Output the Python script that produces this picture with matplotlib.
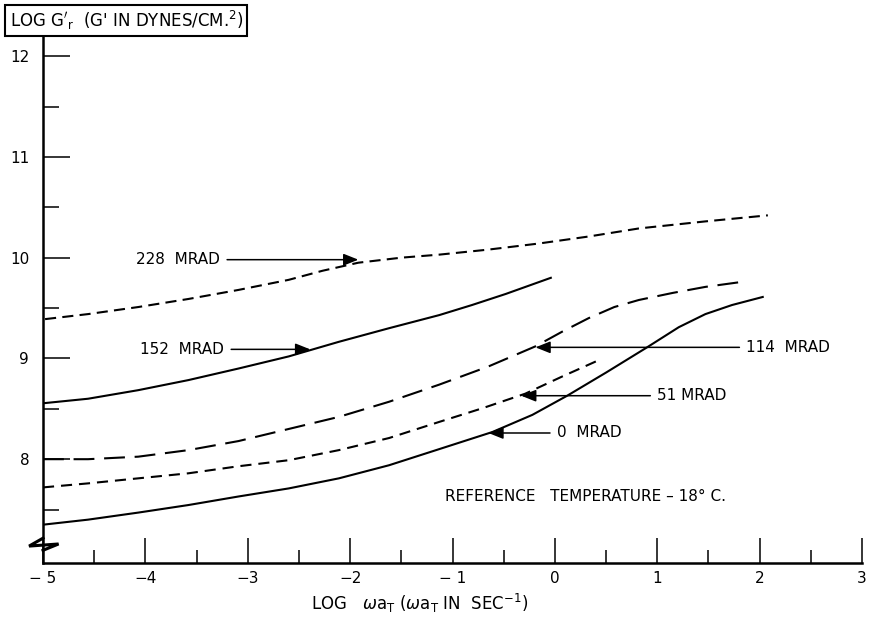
import matplotlib
matplotlib.use("Agg")
import matplotlib.pyplot as plt

plt.rcParams['font.family'] = ['DejaVu Sans']
plt.rcParams['lines.scale_dashes'] = False

# log(omega*aT) vs log G' for each radiation dose
x_228 = [-4.98, -4.56, -4.07, -3.58, -3.09, -2.60, -2.27, -1.92, -1.50, -1.13, -0.65,
         -0.16, 0.33, 0.82, 1.47, 2.08]
y_228 = [9.39, 9.44, 9.51, 9.59, 9.68, 9.78, 9.87, 9.95, 10.00, 10.03, 10.08,
         10.14, 10.21, 10.29, 10.36, 10.42]

x_152 = [-5.0, -4.56, -4.07, -3.58, -3.09, -2.60, -2.11, -1.62, -1.13, -0.81, -0.48, -0.04]
y_152 = [8.555, 8.60, 8.685, 8.785, 8.90, 9.02, 9.165, 9.30, 9.43, 9.53, 9.64, 9.80]

x_114 = [-5.0, -4.56, -4.07, -3.58, -3.09, -2.60, -2.11, -1.62, -1.13, -0.65, -0.19,
         0.07, 0.33, 0.58, 0.82, 1.15, 1.47, 1.83]
y_114 = [8.0, 8.0, 8.025, 8.09, 8.18, 8.30, 8.42, 8.57, 8.74, 8.92, 9.12,
         9.265, 9.40, 9.51, 9.58, 9.65, 9.71, 9.76]

x_51 = [-5.0, -4.56, -4.07, -3.58, -3.09, -2.60, -2.11, -1.62, -1.13, -0.71, -0.29, 0.07, 0.40]
y_51 = [7.72, 7.76, 7.81, 7.86, 7.93, 7.99, 8.09, 8.21, 8.37, 8.505, 8.65, 8.82, 8.97]

x_0 = [-5.0, -4.56, -4.07, -3.58, -3.09, -2.60, -2.11, -1.62, -1.13, -0.61, -0.22,
       0.12, 0.50, 0.90, 1.21, 1.47, 1.73, 2.03]
y_0 = [7.35, 7.40, 7.47, 7.545, 7.63, 7.71, 7.81, 7.94, 8.10, 8.27, 8.44,
       8.63, 8.86, 9.11, 9.31, 9.44, 9.53, 9.61]

# dose labels: text, text anchor (x, y), arrow tip x, side of text
labels = ['228  MRAD', '152  MRAD', '114  MRAD', '51 MRAD', '0  MRAD']
label_x = [-3.27, -3.23, 1.87, 1.0, 0.02]
label_y = [9.98, 9.09, 9.11, 8.63, 8.26]
tip_x = [-1.92, -2.39, -0.19, -0.33, -0.65]
label_ha = ['right', 'right', 'left', 'left', 'left']

x_major = [-5, -4, -3, -2, -1, 0, 1, 2, 3]
x_ticklabels = ['\u2212 5', '\u22124', '\u22123', '\u22122', '\u2212 1', '0', '1', '2', '3']
y_major = [8, 9, 10, 11, 12]
y_minor = [7.5, 8.5, 9.5, 10.5, 11.5]

fig = plt.figure(figsize=(8.69, 6.19), dpi=100)
ax = fig.add_axes([0.0495, 0.0905, 0.9425, 0.853])

lw = 1.5
ax.plot(x_228, y_228, color='black', lw=lw, linestyle=(0, (8, 4.5)))
ax.plot(x_152, y_152, color='black', lw=lw)
ax.plot(x_114, y_114, color='black', lw=lw, linestyle=(0, (15, 7)))
ax.plot(x_51, y_51, color='black', lw=lw, linestyle=(0, (8, 5)))
ax.plot(x_0, y_0, color='black', lw=lw)

for txt, lx, ly, tx, ha in zip(labels, label_x, label_y, tip_x, label_ha):
    rel = (1, 0.5) if ha == 'right' else (0, 0.5)
    ax.annotate(txt, xy=(tx, ly), xytext=(lx, ly), ha=ha, va='center',
                fontsize=11,
                arrowprops=dict(arrowstyle='-|>,head_length=0.5,head_width=0.2',
                                color='black', lw=1.1, relpos=rel,
                                shrinkA=3, shrinkB=0, mutation_scale=18))

ax.text(-1.07, 7.63, 'REFERENCE   TEMPERATURE \u2013 18\u00b0 C.',
        fontsize=11, ha='left', va='center')

ax.set_xlim(-5, 3)
ax.set_ylim(6.97, 12.21)

ax.spines['top'].set_visible(False)
ax.spines['right'].set_visible(False)
ax.spines['left'].set_linewidth(1.8)
ax.spines['bottom'].set_linewidth(1.8)

ax.set_xticks(x_major)
ax.set_xticklabels(x_ticklabels, fontsize=11)
ax.set_xticks([v + 0.5 for v in x_major[:-1]], minor=True)
ax.set_yticks(y_major)
ax.set_yticklabels([str(v) for v in y_major], fontsize=11)
ax.set_yticks(y_minor, minor=True)
ax.tick_params(axis='x', which='major', direction='in', length=18, width=1.1, pad=6)
ax.tick_params(axis='x', which='minor', direction='in', length=9.5, width=1.1)
ax.tick_params(axis='y', which='major', direction='in', length=19.5, width=1.1, pad=10)
ax.tick_params(axis='y', which='minor', direction='in', length=11.5, width=1.1)

ax.set_xlabel(r'LOG   $\omega\mathrm{a}_\mathrm{T}$ ($\omega\mathrm{a}_\mathrm{T}$ IN  SEC$^{-1}$)',
              fontsize=12)
ax.xaxis.set_label_coords(0.46, -0.055)

# axis break mark near the bottom of the y axis
ax.plot([0, -0.017, 0.019, 0], [0.047, 0.032, 0.036, 0.024], transform=ax.transAxes,
        color='black', lw=2.2, clip_on=False, solid_joinstyle='miter')

fig.text(0.011, 0.967, r"LOG $\mathrm{G'_r}$  (G' IN DYNES/CM.$^2$)", fontsize=12,
         ha='left', va='center',
         bbox=dict(boxstyle='square,pad=0.25', facecolor='white', edgecolor='black', lw=1.5))

fig.savefig('out.png', dpi=100)
